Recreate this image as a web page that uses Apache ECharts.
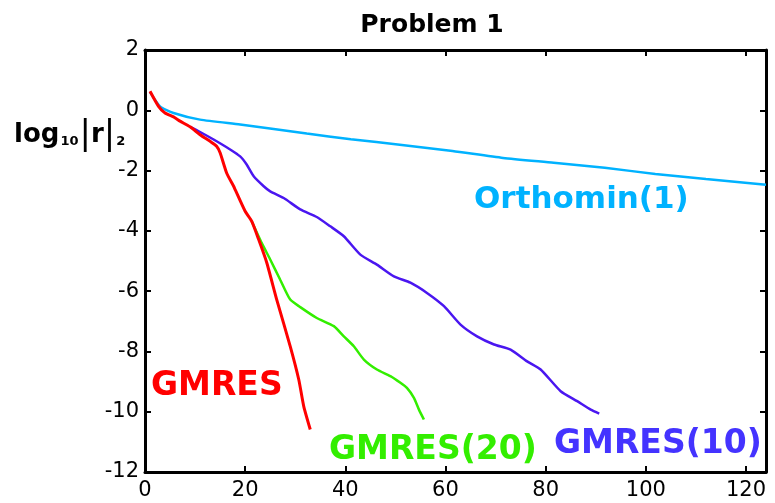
<!DOCTYPE html>
<html>
<head>
<meta charset="utf-8">
<script src="https://cdn.jsdelivr.net/npm/echarts@6/dist/echarts.min.js"></script>
<style>
  html, body { margin: 0; padding: 0; background: #fff; }
  #chart { width: 775px; height: 503px; }
</style>
</head>
<body>
<div id="chart"></div>
<script>
  // values (iteration, log10 residual)
  var gmresX = [1, 2.7, 4, 5.7, 7, 9, 11, 13, 14.3, 15, 16.3, 17.7, 18, 20, 21.3, 22.7, 24.3, 26.3, 29, 30.7, 31.7, 33];
  var gmresY = [0.63, 0.13, -0.09, -0.22, -0.36, -0.55, -0.81, -1.03, -1.19, -1.41, -2.08, -2.52, -2.63, -3.35, -3.68, -4.29, -5.05, -6.28, -7.83, -8.93, -9.82, -10.59];

  var gmres20X = [21.3, 23.3, 25, 27, 29, 31, 34.3, 37.7, 39.7, 41.7, 43.7, 46.3, 49, 51, 52.3, 53.7, 54.7, 55.7];
  var gmres20Y = [-3.68, -4.4, -4.95, -5.62, -6.28, -6.53, -6.89, -7.16, -7.5, -7.83, -8.27, -8.6, -8.82, -9.04, -9.21, -9.54, -9.93, -10.26];

  var gmres10X = [9, 11, 13.7, 17, 19, 20.3, 21.7, 23.7, 25, 27.7, 31, 34.3, 37, 39.7, 43, 46.3, 49.7, 53, 56.3, 59.7, 63, 66.3, 69.7, 73, 76.3, 79, 83, 86.3, 89, 90.7];
  var gmres10Y = [-0.55, -0.72, -0.97, -1.3, -1.53, -1.8, -2.19, -2.52, -2.69, -2.91, -3.29, -3.54, -3.85, -4.18, -4.79, -5.12, -5.51, -5.72, -6.06, -6.5, -7.11, -7.5, -7.77, -7.94, -8.33, -8.6, -9.32, -9.65, -9.93, -10.06];

  var orthoX = [1, 3, 5.7, 11, 19, 25.7, 32.3, 41.1, 51.3, 61.4, 71.5, 81.6, 91.8, 101.9, 112, 124];
  var orthoY = [0.6, 0.13, -0.09, -0.31, -0.47, -0.62, -0.77, -0.96, -1.15, -1.35, -1.58, -1.74, -1.91, -2.11, -2.28, -2.47];

  var xTicks = [0, 124, 20];   // min, max, interval
  var yTicks = [-12, 2, 2];

  function pairs(xs, ys) {
    return xs.map(function (x, i) { return [x, ys[i]]; });
  }

  var font = 'DejaVu Sans';
  var chart = echarts.init(document.getElementById('chart'));

  function xAxis(pos, showLabel) {
    return {
      type: 'value', position: pos,
      min: xTicks[0], max: xTicks[1], interval: xTicks[2],
      axisLine: {show: true, onZero: false, lineStyle: {color: '#000', width: 3}},
      axisTick: {show: true, inside: true, length: 6, lineStyle: {color: '#000', width: 2}},
      axisLabel: {show: showLabel, showMaxLabel: false, margin: 8, color: '#000', fontFamily: font, fontSize: 21},
      splitLine: {show: false}
    };
  }
  function yAxis(pos, showLabel) {
    return {
      type: 'value', position: pos,
      min: yTicks[0], max: yTicks[1], interval: yTicks[2],
      axisLine: {show: true, onZero: false, lineStyle: {color: '#000', width: 3}},
      axisTick: {show: true, inside: true, length: 6, lineStyle: {color: '#000', width: 2}},
      axisLabel: {show: showLabel, margin: 6, color: '#000', fontFamily: font, fontSize: 21},
      splitLine: {show: false}
    };
  }
  function line(name, data, color, w) {
    return {
      name: name, type: 'line', data: data, showSymbol: false, symbol: 'none',
      smooth: 0.2, lineStyle: {color: color, width: w}, animation: false
    };
  }

  chart.setOption({
    backgroundColor: '#fff',
    animation: false,
    title: {
      text: 'Problem 1', left: 427, top: 8, textAlign: 'center',
      textStyle: {fontFamily: font, fontWeight: 'bold', fontSize: 25, color: '#000'}
    },
    grid: {left: 145, right: 9, top: 50, bottom: 31},
    xAxis: [xAxis('bottom', true), xAxis('top', false)],
    yAxis: [yAxis('left', true), yAxis('right', false)],
    series: [
      line('Orthomin(1)', pairs(orthoX, orthoY), '#00b2ff', 2.5),
      line('GMRES(10)', pairs(gmres10X, gmres10Y), '#4a16f0', 2.5),
      line('GMRES(20)', pairs(gmres20X, gmres20Y), '#33ee00', 2.5),
      line('GMRES', pairs(gmresX, gmresY), '#ff0000', 3)
    ],
    graphic: [
      {type: 'text', left: 14, top: 118, style: {
        rich: {
          a: {fontFamily: font, fontWeight: 'bold', fontSize: 26, fill: '#000'},
          s: {fontFamily: font, fontWeight: 'bold', fontSize: 13, fill: '#000', padding: [14, 1, 0, 1]},
          b: {fontFamily: font, fontSize: 34, fill: '#000'}
        },
        text: '{a|log}{s|10}{b||}{a|r}{b||}{s|2}'
      }},
      {type: 'text', x: 151, y: 386, style: {text: 'GMRES', fill: '#ff0000', font: 'bold 33px "DejaVu Sans"', textVerticalAlign: 'middle'}},
      {type: 'text', x: 474, y: 200, style: {text: 'Orthomin(1)', fill: '#00b2ff', font: 'bold 31px "DejaVu Sans"', textVerticalAlign: 'middle'}},
      {type: 'text', x: 329, y: 450, style: {text: 'GMRES(20)', fill: '#33ee00', font: 'bold 33px "DejaVu Sans"', textVerticalAlign: 'middle'}},
      {type: 'text', x: 554, y: 444, style: {text: 'GMRES(10)', fill: '#4433ff', font: 'bold 33px "DejaVu Sans"', textVerticalAlign: 'middle'}}
    ]
  });
</script>
</body>
</html>
